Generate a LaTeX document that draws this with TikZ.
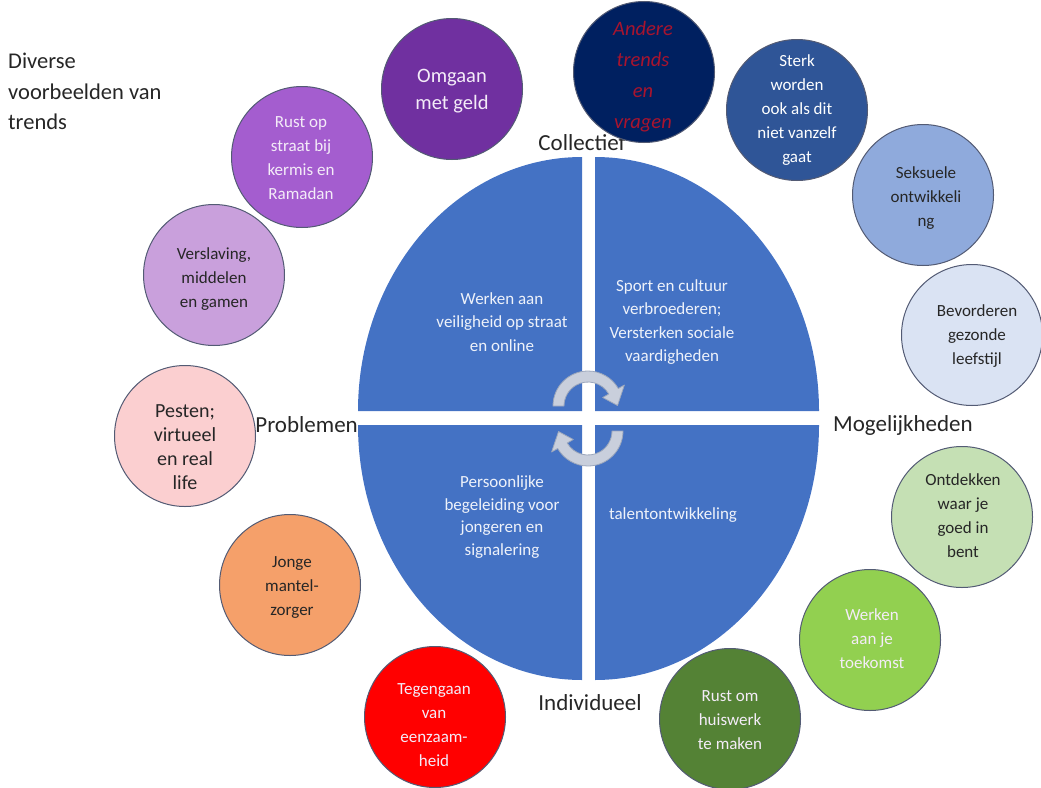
\documentclass[tikz,border=0pt]{standalone}
\usepackage{fontspec}
\setmainfont{Carlito}
\usetikzlibrary{calc}
\definecolor{qblue}{HTML}{4472C4}
\definecolor{arrfill}{HTML}{C9CFDC}
\definecolor{arrdraw}{HTML}{9CA7BC}
\definecolor{ringline}{HTML}{535B74}
\definecolor{labeltext}{HTML}{262626}
\definecolor{cOmgaan}{HTML}{7030A0}
\definecolor{cAndere}{HTML}{002060}
\definecolor{cSterk}{HTML}{2F5597}
\definecolor{cSeks}{HTML}{8FAADC}
\definecolor{cBevord}{HTML}{DAE3F3}
\definecolor{cOntdek}{HTML}{C5E0B4}
\definecolor{cWerken}{HTML}{92D050}
\definecolor{cRustOm}{HTML}{548235}
\definecolor{cTegen}{HTML}{FF0000}
\definecolor{cJonge}{HTML}{F5A06A}
\definecolor{cPesten}{HTML}{FBCFD0}
\definecolor{cVersl}{HTML}{C9A0DC}
\definecolor{cRustStr}{HTML}{A45DCF}
\definecolor{tAndere}{HTML}{A8142E}
\definecolor{tLight}{HTML}{F4ECF8}
\definecolor{tDark}{HTML}{262626}
\definecolor{tQuarter}{HTML}{EEF2FA}
\tikzset{
  bubble/.style={circle, minimum size=141pt, inner sep=0pt, draw=ringline, line width=1pt},
  btext/.style={align=center, inner sep=0pt, font=\fontsize{17}{24}\selectfont},
  quarter/.style={fill=qblue},
  qtext/.style={text=tQuarter, align=center, inner sep=0pt, font=\fontsize{17}{23.5}\selectfont},
  axislabel/.style={text=labeltext, font=\fontsize{23}{28}\selectfont, inner sep=0pt},
  circarrow/.style={fill=arrfill, draw=arrdraw, line width=0.8pt, line join=round}
}
\begin{document}
\begin{tikzpicture}[x=1pt,y=-1pt]
\useasboundingbox (0,0) rectangle (1041,787);

% title
\node[anchor=north west, align=left, text=labeltext, inner sep=0pt,
  font=\fontsize{22.5}{30.5}\selectfont] (title) at (8,53) {Diverse\\voorbeelden van\\trends};

% axis label behind circles
\node[axislabel] (collectief) at (582,143) {Collectief};

% four quarters of the central ellipse
\fill[quarter] (582,411) -- (358,411) arc[start angle=180, end angle=270, x radius=224, y radius=254] -- cycle;
\fill[quarter] (595,411) -- (595,157) arc[start angle=270, end angle=360, x radius=224, y radius=254] -- cycle;
\fill[quarter] (595,425) -- (819,425) arc[start angle=0, end angle=90, x radius=224, y radius=255] -- cycle;
\fill[quarter] (582,425) -- (582,680) arc[start angle=90, end angle=180, x radius=224, y radius=255] -- cycle;

% circular arrows
\coordinate (ct) at (588,406);
\coordinate (cb) at (588,431);
\filldraw[circarrow] ($(ct)+(180:35)$) arc[start angle=180, end angle=330, radius=35]
  -- ($(ct)+(330:42)$) -- ($(ct)+(359:29.5)$) -- ($(ct)+(330:17)$) -- ($(ct)+(330:24)$)
  arc[start angle=330, end angle=180, radius=24] -- cycle;
\filldraw[circarrow] ($(cb)+(0:35)$) arc[start angle=0, end angle=150, radius=35]
  -- ($(cb)+(150:42)$) -- ($(cb)+(179:29.5)$) -- ($(cb)+(150:17)$) -- ($(cb)+(150:24)$)
  arc[start angle=150, end angle=0, radius=24] -- cycle;

% texts in the quarters
\node[qtext] (qtl) at (502,322) {Werken aan\\veiligheid op straat\\en online};
\node[qtext] (qtr) at (672,322) {Sport en cultuur\\verbroederen;\\Versterken sociale\\vaardigheden};
\node[qtext, font=\fontsize{17}{22.5}\selectfont] (qbl) at (502,517) {Persoonlijke\\begeleiding voor\\jongeren en\\signalering};
\node[qtext] (qbr) at (673,515) {talentontwikkeling};

% bubbles
\node[bubble, fill=cRustStr] (ruststraat) at (302,157) {};
\node[btext, text=tLight] (ruststraat-t) at (301,158) {Rust op\\straat bij\\kermis en\\Ramadan};
\node[bubble, fill=cOmgaan] (omgaan) at (452,89) {};
\node[btext, text=tLight, font=\fontsize{20.5}{27}\selectfont] (omgaan-t) at (452,91) {Omgaan\\met geld};
\node[bubble, fill=cAndere] (andere) at (644,72) {};
\node[btext, text=tAndere, font=\fontsize{20.5}{31}\selectfont\itshape] (andere-t) at (643,77) {Andere\\trends\\en\\vragen};
\node[bubble, fill=cSterk] (sterk) at (797,110) {};
\node[btext, text=white] (sterk-t) at (797,110) {Sterk\\worden\\ook als dit\\niet vanzelf\\gaat};
\node[bubble, fill=cSeks] (seks) at (923,195) {};
\node[btext, text=tDark] (seks-t) at (926,198) {Seksuele\\ontwikkeli\\ng};
\node[bubble, fill=cBevord] (bevord) at (972,335) {};
\node[btext, text=tDark] (bevord-t) at (977,336) {Bevorderen\\gezonde\\leefstijl};
\node[bubble, fill=cOntdek] (ontdek) at (962,517) {};
\node[btext, text=tDark] (ontdek-t) at (963,516) {Ontdekken\\waar je\\goed in\\bent};
\node[bubble, fill=cWerken] (werken) at (870,640) {};
\node[btext, text=tLight] (werken-t) at (872,639) {Werken\\aan je\\toekomst};
\node[bubble, fill=cRustOm] (rustom) at (730,719) {};
\node[btext, text=tLight] (rustom-t) at (730,720) {Rust om\\huiswerk\\te maken};
\node[bubble, fill=cTegen] (tegen) at (435,717) {};
\node[btext, text=tLight] (tegen-t) at (434,725) {Tegengaan\\van\\eenzaam-\\heid};
\node[bubble, fill=cJonge] (jonge) at (290,585) {};
\node[btext, text=tDark] (jonge-t) at (292,587) {Jonge\\mantel-\\zorger};
\node[bubble, fill=cPesten] (pesten) at (185,436) {};
\node[btext, text=tDark, font=\fontsize{20}{24}\selectfont] (pesten-t) at (185,447) {Pesten;\\virtueel\\en real\\life};
\node[bubble, fill=cVersl] (versl) at (214,275) {};
\node[btext, text=tDark] (versl-t) at (214,279) {Verslaving,\\middelen\\en gamen};

% axis labels
\node[axislabel, anchor=east] (problemen) at (358,425) {Problemen};
\node[axislabel, anchor=west] (mogelijk) at (833,425) {Mogelijkheden};
\node[axislabel] (individueel) at (590,703) {Individueel};
\end{tikzpicture}
\end{document}
